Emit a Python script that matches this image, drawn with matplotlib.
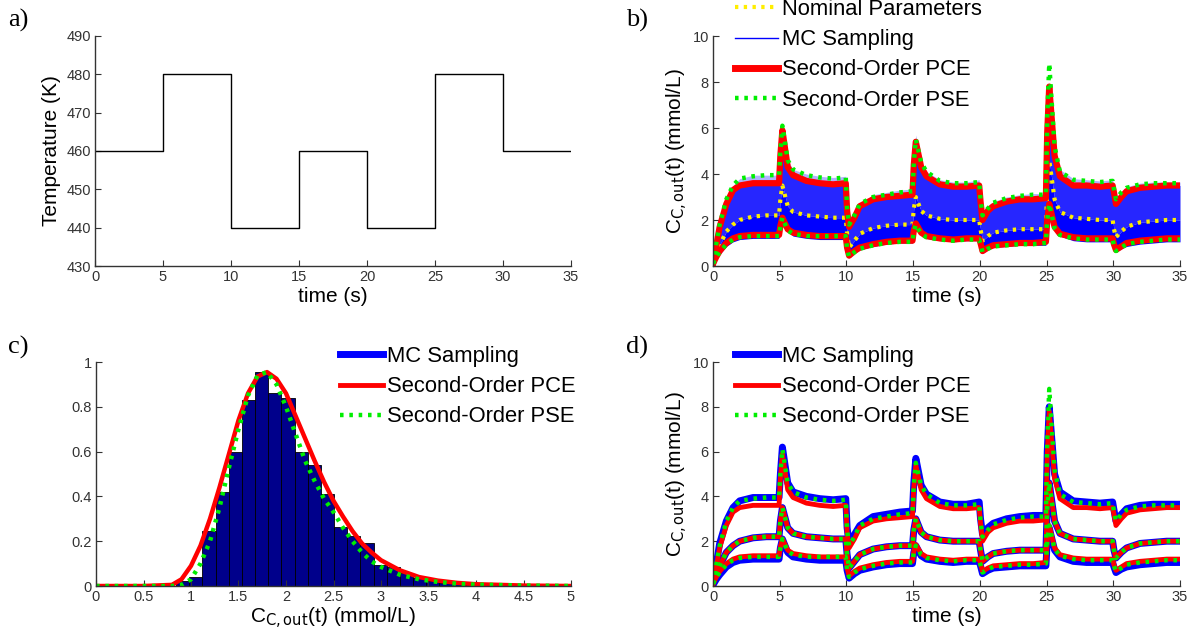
import matplotlib
matplotlib.use('Agg')
import matplotlib.pyplot as plt
from matplotlib.ticker import FuncFormatter

# ---------------- data ----------------
# panel a: temperature program
step_times = [0, 5, 10, 15, 20, 25, 30, 35]
step_temps = [460, 480, 440, 460, 440, 480, 460]

# panels b/d: time grid and response envelopes (mmol/L)
t = [0, 0.25, 0.5, 1, 1.5, 2, 3, 4, 4.95,
     5.05, 5.2, 5.6, 6, 7, 8, 9, 9.95,
     10.05, 10.2, 10.6, 11, 12, 13, 14, 14.95,
     15.05, 15.2, 15.6, 16, 17, 18, 19, 19.95,
     20.05, 20.2, 20.6, 21, 22, 23, 24, 24.95,
     25.05, 25.2, 25.6, 26, 27, 28, 29, 29.95,
     30.05, 30.2, 30.6, 31, 32, 33, 34, 35]

mc_upper = [0.1, 1.0, 1.9, 2.9, 3.5, 3.8, 3.95, 3.95, 3.95,
            5.0, 6.2, 4.6, 4.2, 4.0, 3.9, 3.85, 3.9,
            2.6, 1.9, 2.3, 2.7, 3.1, 3.2, 3.3, 3.35,
            4.6, 5.7, 4.5, 4.1, 3.75, 3.65, 3.65, 3.75,
            3.0, 2.3, 2.6, 2.8, 3.0, 3.1, 3.15, 3.15,
            6.0, 8.0, 5.0, 4.2, 3.8, 3.75, 3.7, 3.75,
            3.4, 2.9, 3.2, 3.45, 3.6, 3.65, 3.65, 3.65]
pce_upper = [0.1, 0.9, 1.7, 2.7, 3.3, 3.5, 3.6, 3.6, 3.6,
             4.8, 5.9, 4.3, 3.95, 3.7, 3.6, 3.55, 3.6,
             2.4, 1.7, 2.1, 2.6, 2.9, 3.0, 3.05, 3.1,
             4.4, 5.4, 4.3, 3.9, 3.55, 3.45, 3.45, 3.5,
             2.8, 2.0, 2.4, 2.6, 2.8, 2.9, 2.9, 2.95,
             5.8, 7.8, 4.8, 3.9, 3.5, 3.5, 3.45, 3.5,
             3.2, 2.7, 3.0, 3.25, 3.4, 3.45, 3.5, 3.5]
pse_upper = [0.1, 1.0, 1.8, 2.9, 3.5, 3.8, 3.9, 3.95, 3.95,
             5.0, 6.1, 4.6, 4.2, 3.95, 3.85, 3.8, 3.85,
             2.5, 1.8, 2.2, 2.7, 3.0, 3.1, 3.2, 3.25,
             4.5, 5.5, 4.5, 4.1, 3.7, 3.6, 3.6, 3.65,
             2.9, 2.2, 2.5, 2.75, 2.95, 3.05, 3.1, 3.1,
             6.5, 8.8, 5.2, 4.1, 3.75, 3.7, 3.65, 3.7,
             3.35, 2.9, 3.2, 3.4, 3.55, 3.6, 3.6, 3.6]
mean_response = [0.1, 0.5, 0.9, 1.5, 1.8, 2.0, 2.15, 2.2, 2.2,
                 2.9, 3.5, 2.6, 2.35, 2.2, 2.15, 2.1, 2.1,
                 1.4, 0.8, 1.1, 1.4, 1.65, 1.75, 1.8, 1.8,
                 2.5, 3.0, 2.4, 2.2, 2.05, 2.0, 2.0, 2.0,
                 1.6, 1.1, 1.3, 1.45, 1.55, 1.6, 1.6, 1.6,
                 3.5, 4.6, 2.9, 2.35, 2.1, 2.05, 2.0, 2.0,
                 1.6, 1.25, 1.5, 1.7, 1.9, 1.95, 2.0, 2.0]
nominal = mean_response
mc_lower = [0.05, 0.3, 0.5, 0.85, 1.05, 1.15, 1.2, 1.2, 1.2,
            1.7, 2.1, 1.5, 1.3, 1.2, 1.15, 1.15, 1.15,
            0.7, 0.35, 0.55, 0.7, 0.85, 0.95, 1.0, 1.0,
            1.5, 1.8, 1.35, 1.2, 1.1, 1.05, 1.1, 1.1,
            0.9, 0.55, 0.7, 0.8, 0.85, 0.9, 0.9, 0.9,
            2.0, 2.6, 1.6, 1.3, 1.1, 1.05, 1.05, 1.05,
            0.85, 0.6, 0.75, 0.85, 0.95, 1.0, 1.05, 1.05]
pce_lower = [0.1, 0.4, 0.65, 1.0, 1.2, 1.3, 1.35, 1.35, 1.35,
             1.75, 2.1, 1.6, 1.45, 1.35, 1.3, 1.3, 1.3,
             0.8, 0.45, 0.65, 0.8, 0.95, 1.05, 1.1, 1.1,
             1.55, 1.85, 1.45, 1.3, 1.2, 1.15, 1.2, 1.2,
             1.0, 0.65, 0.8, 0.9, 0.95, 1.0, 1.0, 1.05,
             2.0, 2.7, 1.7, 1.4, 1.25, 1.2, 1.2, 1.2,
             0.95, 0.7, 0.85, 1.0, 1.1, 1.15, 1.2, 1.2]
pse_lower = [0.1, 0.4, 0.6, 0.95, 1.15, 1.25, 1.3, 1.3, 1.3,
             1.7, 2.1, 1.55, 1.4, 1.3, 1.3, 1.3, 1.3,
             0.75, 0.4, 0.6, 0.75, 0.9, 1.0, 1.05, 1.05,
             1.5, 1.8, 1.4, 1.25, 1.15, 1.1, 1.15, 1.15,
             0.95, 0.6, 0.75, 0.85, 0.9, 0.95, 0.95, 1.0,
             2.0, 2.7, 1.65, 1.35, 1.2, 1.15, 1.15, 1.15,
             0.9, 0.65, 0.8, 0.95, 1.05, 1.1, 1.15, 1.15]

# panel c: histogram of MC samples and PDFs
bin_centers = [0.912, 1.051, 1.190, 1.328, 1.467, 1.605, 1.744, 1.883, 2.021,
               2.160, 2.298, 2.437, 2.576, 2.714, 2.853, 2.991, 3.130, 3.269,
               3.407, 3.546, 3.684, 3.823, 3.962, 4.100, 4.239]
bin_heights = [0.022, 0.04, 0.245, 0.42, 0.60, 0.83, 0.955, 0.86, 0.84,
               0.60, 0.54, 0.41, 0.265, 0.225, 0.19, 0.092, 0.085, 0.057,
               0.037, 0.024, 0.015, 0.01, 0.007, 0.004, 0.002]
bin_width = 0.1386
pdf_x = [0, 0.5, 0.8, 0.9, 1.0, 1.1, 1.2, 1.3, 1.4, 1.5, 1.6, 1.7, 1.8, 1.9,
         2.0, 2.1, 2.2, 2.3, 2.4, 2.5, 2.6, 2.7, 2.8, 2.9, 3.0, 3.2, 3.4,
         3.6, 3.8, 4.0, 4.5, 5.0]
pdf_pce = [0, 0, 0.005, 0.03, 0.09, 0.18, 0.30, 0.44, 0.59, 0.74, 0.86, 0.935,
           0.955, 0.925, 0.86, 0.76, 0.66, 0.56, 0.465, 0.38, 0.31, 0.245,
           0.19, 0.15, 0.115, 0.07, 0.04, 0.024, 0.014, 0.008, 0.002, 0]
pdf_pse = [0, 0, 0, 0.005, 0.03, 0.10, 0.20, 0.35, 0.53, 0.70, 0.85, 0.94,
           0.955, 0.90, 0.80, 0.68, 0.56, 0.47, 0.39, 0.33, 0.26, 0.20,
           0.15, 0.11, 0.085, 0.05, 0.03, 0.018, 0.01, 0.006, 0.002, 0]

# ---------------- style ----------------
W, H = 1191, 638
fig = plt.figure(figsize=(W / 100, H / 100), dpi=100)
TICK_FONT = ['Liberation Sans Narrow', 'Liberation Sans', 'DejaVu Sans']
LAB_FONT = ['Liberation Sans', 'DejaVu Sans']
SERIF = ['Liberation Serif', 'DejaVu Serif']
AX_COL = '#333333'
BLUE = '#0000ff'
RED = '#ff0000'
GREEN = '#00ee00'
YELLOW = '#ffee00'
DOT = (0, (0.8, 1.3))
LEG_SIZE = 15.8

fmt = FuncFormatter(lambda v, p: '%g' % v)


def make_axes(px_left, px_top, px_right, px_bottom):
    ax = fig.add_axes([px_left / W, 1 - px_bottom / H,
                       (px_right - px_left) / W, (px_bottom - px_top) / H])
    for s in ['top', 'right']:
        ax.spines[s].set_visible(False)
    for s in ['left', 'bottom']:
        ax.spines[s].set_color(AX_COL)
        ax.spines[s].set_linewidth(1.0)
    ax.tick_params(direction='in', length=4, width=0.8, colors=AX_COL,
                   labelsize=10.5, pad=3)
    ax.xaxis.set_major_formatter(fmt)
    ax.yaxis.set_major_formatter(fmt)
    return ax


def style_ticks(ax):
    for lab in ax.get_xticklabels() + ax.get_yticklabels():
        lab.set_family(TICK_FONT)
        lab.set_color(AX_COL)


def add_legend(handles, labels, px_x, px_top):
    fig.legend(handles, labels, loc='upper left',
               bbox_to_anchor=(px_x / W, 1 - px_top / H),
               frameon=False, borderpad=0, borderaxespad=0, handlelength=1.95,
               handletextpad=0.2, labelspacing=0.42,
               prop={'family': LAB_FONT, 'size': LEG_SIZE})


conc_label = r'C$_{\mathrm{C,out}}$(t) (mmol/L)'

# ---------------- panel a ----------------
ax_a = make_axes(95, 36, 571, 266)
ax_a.step(step_times, step_temps + [step_temps[-1]], where='post',
          color='black', lw=1.0)
ax_a.set_xlim(0, 35)
ax_a.set_ylim(430, 490)
ax_a.set_xticks(range(0, 36, 5))
ax_a.set_yticks(range(430, 491, 10))
ax_a.set_xlabel('time (s)', fontsize=15, family=LAB_FONT, labelpad=2)
ax_a.set_ylabel('Temperature (K)', fontsize=15, family=LAB_FONT, labelpad=4)
style_ticks(ax_a)

# ---------------- panel b ----------------
ax_b = make_axes(713, 36, 1180, 266)
ax_b.fill_between(t, mc_lower, mean_response, color=BLUE, lw=0)
ax_b.fill_between(t, mean_response, pce_upper, color=BLUE, alpha=0.85, lw=0)
ax_b.fill_between(t, pce_upper, mc_upper, color=BLUE, alpha=0.3, lw=0)
ax_b.plot(t, nominal, color=YELLOW, lw=3, ls=DOT)
ax_b.plot(t, pce_upper, color=RED, lw=4.5)
ax_b.plot(t, pce_lower, color=RED, lw=4.5)
ax_b.plot(t, pse_upper, color=GREEN, lw=3.2, ls=DOT)
ax_b.plot(t, pse_lower, color=GREEN, lw=3.2, ls=DOT)
ax_b.set_xlim(0, 35)
ax_b.set_ylim(0, 10)
ax_b.set_xticks(range(0, 36, 5))
ax_b.set_yticks(range(0, 11, 2))
ax_b.set_xlabel('time (s)', fontsize=15, family=LAB_FONT, labelpad=2)
ax_b.set_ylabel(conc_label, fontsize=15, family=LAB_FONT, labelpad=2)
style_ticks(ax_b)
hb = [plt.Line2D([], [], color=YELLOW, lw=3, ls=DOT),
      plt.Line2D([], [], color=BLUE, lw=1),
      plt.Line2D([], [], color=RED, lw=5),
      plt.Line2D([], [], color=GREEN, lw=3.2, ls=DOT)]
add_legend(hb, ['Nominal Parameters', 'MC Sampling', 'Second-Order PCE',
                'Second-Order PSE'], 735, -1)

# ---------------- panel c ----------------
ax_c = make_axes(96, 362, 571, 586)
ax_c.bar(bin_centers, bin_heights, width=bin_width, color='#00008b',
         edgecolor='black', lw=0.6)
ax_c.plot(pdf_x, pdf_pce, color=RED, lw=3.2)
ax_c.plot(pdf_x, pdf_pse, color=GREEN, lw=3.2, ls=DOT)
ax_c.set_xlim(0, 5)
ax_c.set_ylim(0, 1)
ax_c.set_xticks([0, 0.5, 1, 1.5, 2, 2.5, 3, 3.5, 4, 4.5, 5])
ax_c.set_yticks([0, 0.2, 0.4, 0.6, 0.8, 1])
ax_c.set_xlabel(conc_label, fontsize=15, family=LAB_FONT, labelpad=1)
style_ticks(ax_c)
hc = [plt.Line2D([], [], color=BLUE, lw=5),
      plt.Line2D([], [], color=RED, lw=3.5),
      plt.Line2D([], [], color=GREEN, lw=3.2, ls=DOT)]
leg_labels = ['MC Sampling', 'Second-Order PCE', 'Second-Order PSE']
add_legend(hc, leg_labels, 340, 346)

# ---------------- panel d ----------------
ax_d = make_axes(713, 362, 1180, 586)
for y in (mc_upper, mean_response, mc_lower):
    ax_d.plot(t, y, color=BLUE, lw=5)
for y in (pce_upper, mean_response, pce_lower):
    ax_d.plot(t, y, color=RED, lw=3.5)
for y in (pse_upper, mean_response, pse_lower):
    ax_d.plot(t, y, color=GREEN, lw=3.2, ls=DOT)
ax_d.set_xlim(0, 35)
ax_d.set_ylim(0, 10)
ax_d.set_xticks(range(0, 36, 5))
ax_d.set_yticks(range(0, 11, 2))
ax_d.set_xlabel('time (s)', fontsize=15, family=LAB_FONT, labelpad=2)
ax_d.set_ylabel(conc_label, fontsize=15, family=LAB_FONT, labelpad=2)
style_ticks(ax_d)
add_legend(hc, leg_labels, 735, 346)

# panel letters
for txt, x, y in [('a)', 8, 20), ('b)', 626, 20), ('c)', 8, 347), ('d)', 626, 347)]:
    fig.text(x / W, 1 - y / H, txt, fontsize=19, family=SERIF,
             va='center', ha='left')

fig.savefig('out.png', dpi=100)
